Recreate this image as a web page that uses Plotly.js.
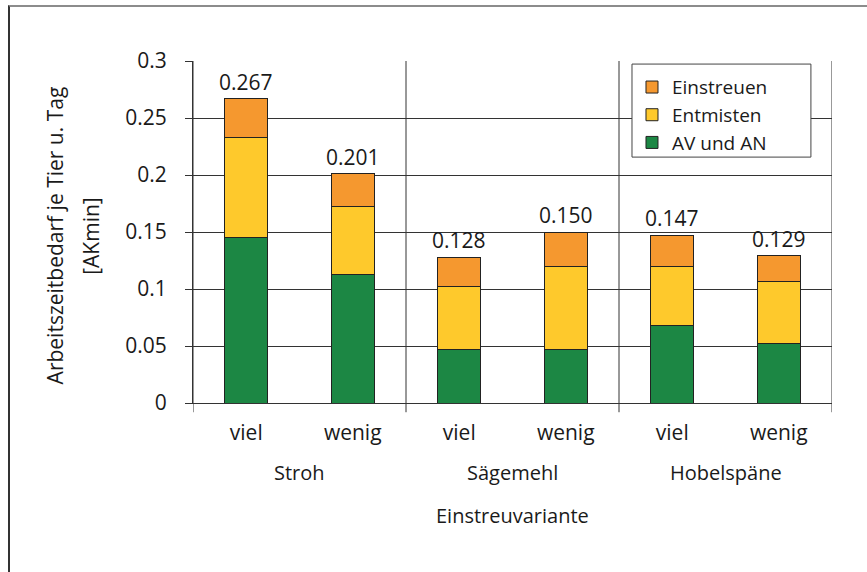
<!DOCTYPE html>
<html>
<head>
<meta charset="utf-8">
<script src="https://cdn.plot.ly/plotly-3.0.1.min.js"></script>
<style>
  html, body { margin: 0; padding: 0; background: #fff; overflow: hidden; }
  #wrap { position: relative; width: 867px; height: 572px; }
  #chart { position: absolute; left: 0; top: 0; width: 867px; height: 572px; }
  #frame {
    position: absolute; left: 8px; top: 5px; right: -4px; bottom: -4px;
    border-top: 2px solid #8c8c8c; border-left: 2px solid #333;
    pointer-events: none;
  }
</style>
</head>
<body>
<div id="wrap">
  <div id="chart"></div>
  <div id="frame"></div>
</div>
<script>
// Bedding variant (group) and bedding amount (sub-category) per bar
const groups = ['Stroh', 'Stroh', 'Sägemehl', 'Sägemehl', 'Hobelspäne', 'Hobelspäne'];
const amounts = ['viel', 'wenig', 'viel', 'wenig', 'viel', 'wenig'];

// Working time per animal and day [AKmin], stacked from bottom to top
const avUndAn = [0.145, 0.113, 0.047, 0.047, 0.068, 0.052];
const entmisten = [0.088, 0.059, 0.055, 0.073, 0.052, 0.055];
const einstreuen = [0.034, 0.029, 0.026, 0.030, 0.027, 0.022];

const seriesNames = ['AV und AN', 'Entmisten', 'Einstreuen'];
const seriesColors = ['#1c8744', '#fec92c', '#f5982f'];

const FONT = '"Open Sans", "DejaVu Sans", sans-serif';
const TXT = '#1a1a1a';
const GRID = '#333333';

const idx = amounts.map((_, i) => i);
const totals = idx.map(i => avUndAn[i] + entmisten[i] + einstreuen[i]);

const traces = [avUndAn, entmisten, einstreuen].map((vals, k) => ({
  type: 'bar',
  name: seriesNames[k],
  x: idx,
  y: vals,
  marker: { color: seriesColors[k], line: { color: '#222', width: 1 } },
  hoverinfo: 'name+y'
}));

// Group boundaries (between bedding variants and at both plot edges)
const bounds = [-0.5];
idx.forEach(i => { if (i > 0 && groups[i] !== groups[i - 1]) bounds.push(i - 0.5); });
bounds.push(idx.length - 0.5);

const shapes = bounds.map(b => ({
  type: 'line', xref: 'x', yref: 'paper',
  x0: b, x1: b, y0: -0.027, y1: 1,
  line: { color: GRID, width: 1 }, layer: 'below'
}));

// Framed white box behind the legend entries
const LEG_X0 = 0.687, LEG_X1 = 0.967, LEG_Y0 = 0.719, LEG_Y1 = 0.991;
shapes.push({
  type: 'rect', xref: 'paper', yref: 'paper',
  x0: LEG_X0, x1: LEG_X1, y0: LEG_Y0, y1: LEG_Y1,
  fillcolor: '#fff', line: { color: '#444', width: 1 }, layer: 'above'
});

// Group labels centred under their bars
const groupNames = [...new Set(groups)];
const annotations = groupNames.map(g => {
  const members = idx.filter(i => groups[i] === g);
  const c = members.reduce((a, b) => a + b, 0) / members.length;
  return {
    xref: 'x', yref: 'paper', x: c, y: -0.202, yanchor: 'middle',
    text: g, showarrow: false, font: { family: FONT, size: 20, color: TXT }
  };
});

// Total above each stack
idx.forEach(i => annotations.push({
  xref: 'x', yref: 'y', x: i, y: totals[i], yanchor: 'bottom', yshift: 1,
  text: totals[i].toFixed(3), showarrow: false,
  font: { family: FONT, size: 21, color: TXT }
}));

// Axis titles
annotations.push({
  xref: 'paper', yref: 'paper', x: 0.5, y: -0.33, yanchor: 'middle',
  text: 'Einstreuvariante', showarrow: false,
  font: { family: FONT, size: 20, color: TXT }
});
annotations.push({
  xref: 'paper', yref: 'paper', x: -0.216, xanchor: 'center', y: 0.49, yanchor: 'middle',
  text: 'Arbeitszeitbedarf je Tier u. Tag', textangle: -90, showarrow: false,
  font: { family: FONT, size: 21, color: TXT }
});
annotations.push({
  xref: 'paper', yref: 'paper', x: -0.159, xanchor: 'center', y: 0.49, yanchor: 'middle',
  text: '[AKmin]', textangle: -90, showarrow: false,
  font: { family: FONT, size: 21, color: TXT }
});

const layout = {
  width: 867, height: 572,
  margin: { l: 193, r: 35, t: 61, b: 169 },
  paper_bgcolor: '#fff', plot_bgcolor: '#fff',
  barmode: 'stack',
  bargap: 0.6,
  font: { family: FONT, size: 19, color: TXT },
  showlegend: true,
  legend: {
    x: LEG_X0, xanchor: 'left', y: LEG_Y1 - 0.012, yanchor: 'top',
    bgcolor: 'rgba(0,0,0,0)', borderwidth: 0,
    traceorder: 'reversed',
    font: { family: FONT, size: 19, color: TXT },
    tracegroupgap: 0
  },
  xaxis: {
    range: [-0.5, idx.length - 0.5],
    tickvals: idx, ticktext: amounts,
    ticks: '', showgrid: false, zeroline: false,
    showline: true, linecolor: GRID, linewidth: 1,
    ticklabelstandoff: 11,
    tickfont: { family: FONT, size: 21, color: TXT },
    fixedrange: true
  },
  yaxis: {
    range: [0, 0.3],
    tickvals: [0, 0.05, 0.1, 0.15, 0.2, 0.25, 0.3],
    ticktext: ['0', '0.05', '0.1', '0.15', '0.2', '0.25', '0.3'],
    ticks: 'outside', ticklen: 7, tickcolor: GRID, tickwidth: 1,
    showgrid: true, gridcolor: GRID, gridwidth: 1,
    zeroline: false, showline: true, linecolor: GRID, linewidth: 1,
    ticklabelstandoff: 14,
    tickfont: { family: FONT, size: 21, color: TXT },
    fixedrange: true
  },
  shapes: shapes,
  annotations: annotations
};

Plotly.newPlot('chart', traces, layout, { displayModeBar: false, staticPlot: true });
</script>
</body>
</html>
